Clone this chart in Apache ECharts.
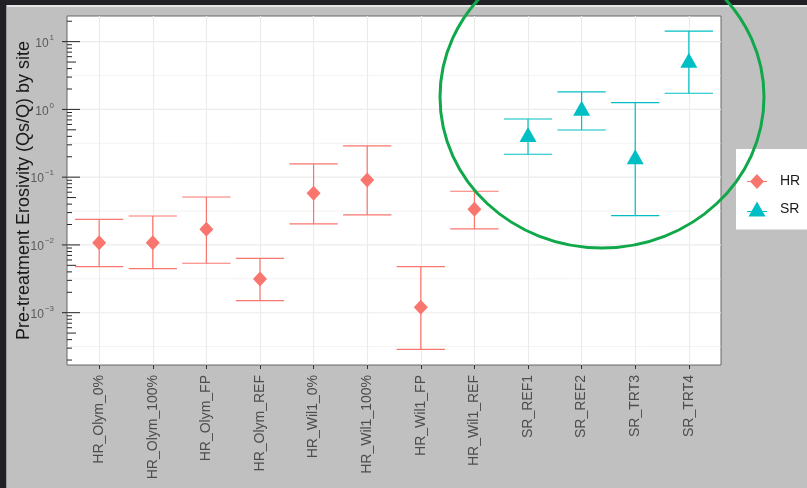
<!DOCTYPE html>
<html>
<head>
<meta charset="utf-8">
<script src="https://cdn.jsdelivr.net/npm/echarts@6/dist/echarts.min.js"></script>
<style>
  html, body { margin: 0; padding: 0; background: #c0c0c0; }
  #chart { width: 807px; height: 488px; }
</style>
</head>
<body>
<div id="chart"></div>
<script>
// Sites on the x axis, in plotting order
const categories = ['HR_Olym_0%', 'HR_Olym_100%', 'HR_Olym_FP', 'HR_Olym_REF',
  'HR_Wil1_0%', 'HR_Wil1_100%', 'HR_Wil1_FP', 'HR_Wil1_REF',
  'SR_REF1', 'SR_REF2', 'SR_TRT3', 'SR_TRT4'];
// Site groups shown in the legend
const groups = ['HR', 'SR'];
// Pre-treatment erosivity (Qs/Q) estimate with its lower / upper interval
const erosivity = [0.0108, 0.0108, 0.0170, 0.00314, 0.0578, 0.0909, 0.00120, 0.0336, 0.392, 0.955, 0.184, 4.89];
const lowerCI   = [0.00477, 0.00446, 0.00536, 0.00151, 0.0204, 0.0277, 0.000288, 0.0172, 0.218, 0.497, 0.027, 1.73];
const upperCI   = [0.0239, 0.0267, 0.0510, 0.00635, 0.157, 0.289, 0.00478, 0.062, 0.722, 1.81, 1.258, 14.3];
// Log10 y range of the panel
const yRange = [1.69e-4, 23.9];

const groupColor = { HR: '#F8766D', SR: '#00BFC4' };
const FONT = '"Liberation Sans", Arial, sans-serif';

// Panel box and the inner data box (discrete axis padded by 0.6 of a step)
const panel = { left: 67, top: 16, width: 654, height: 349 };
const step = panel.width / (categories.length - 1 + 1.2);
const inner = { left: panel.left + 0.6 * step, top: panel.top, width: (categories.length - 1) * step, height: panel.height };

const groupOf = c => c.split('_')[0];

// Horizontal grid lines: decades and half decades
const gridLines = [];
for (let e = -5; e <= 2; e++) {
  [[Math.pow(10, e), 1], [Math.pow(10, e + 0.5), 0]].forEach(([v, major]) => {
    if (v >= yRange[0] && v <= yRange[1]) gridLines.push([0, v, major]);
  });
}
// Log ticks along the left edge of the panel (1 = decade, 5 = mid, rest = minor)
const logTicks = [];
for (let e = -5; e <= 2; e++) {
  for (let m = 1; m <= 9; m++) {
    const v = m * Math.pow(10, e);
    if (v >= yRange[0] && v <= yRange[1]) logTicks.push([0, v, m === 1 ? 2 : (m === 5 ? 1 : 0)]);
  }
}

function renderGridLine(params, api) {
  const cs = params.coordSys;
  const y = api.coord([0, api.value(1)])[1];
  const major = api.value(2) === 1;
  return {
    type: 'line',
    shape: { x1: cs.x, y1: y, x2: cs.x + cs.width, y2: y },
    style: { stroke: '#ebebeb', lineWidth: major ? 1.1 : 0.6 }
  };
}

function renderLogTick(params, api) {
  const p = api.coord([0, api.value(1)]);
  const kind = api.value(2);
  const len = kind === 2 ? 13 : (kind === 1 ? 9 : 5);
  const start = kind === 2 ? -5 : 0;
  return {
    type: 'line',
    shape: { x1: p[0] + start, y1: p[1], x2: p[0] + len, y2: p[1] },
    style: { stroke: '#262626', lineWidth: 1 }
  };
}

function makeErrorBarRenderer(color) {
  return function (params, api) {
    const x = api.value(0);
    const lo = api.coord([x, api.value(1)]);
    const hi = api.coord([x, api.value(2)]);
    const half = api.size([1, 0])[0] * 0.45;
    const style = { stroke: color, lineWidth: 1.2 };
    return {
      type: 'group',
      children: [
        { type: 'line', shape: { x1: lo[0], y1: lo[1], x2: hi[0], y2: hi[1] }, style },
        { type: 'line', shape: { x1: hi[0] - half, y1: hi[1], x2: hi[0] + half, y2: hi[1] }, style },
        { type: 'line', shape: { x1: lo[0] - half, y1: lo[1], x2: lo[0] + half, y2: lo[1] }, style }
      ]
    };
  };
}

const symbolFor = { HR: 'diamond', SR: 'triangle' };
const legendIcon = {
  HR: 'path://M10,0 L17,7.5 L10,15 L3,7.5 Z M0,7 L20,7 L20,8 L0,8 Z',
  SR: 'path://M10,0 L18.5,15 L1.5,15 Z M0,9.5 L20,9.5 L20,10.5 L0,10.5 Z'
};

const series = [
  {
    type: 'custom', name: 'gridlines', xAxisIndex: 0, yAxisIndex: 0, z: 1, silent: true,
    renderItem: renderGridLine, data: gridLines, encode: { x: 0, y: 1 }
  },
  {
    type: 'custom', name: 'logticks', xAxisIndex: 0, yAxisIndex: 0, z: 6, silent: true, clip: false,
    renderItem: renderLogTick, data: logTicks, encode: { x: 0, y: 1 }
  }
];

groups.forEach(g => {
  const idx = categories.map((c, i) => i).filter(i => groupOf(categories[i]) === g);
  series.push({
    type: 'custom', name: g + ' interval', xAxisIndex: 1, yAxisIndex: 1, z: 3,
    renderItem: makeErrorBarRenderer(groupColor[g]),
    data: idx.map(i => [categories[i], lowerCI[i], upperCI[i]]),
    encode: { x: 0, y: [1, 2] }
  });
  series.push({
    type: 'scatter', name: g, xAxisIndex: 1, yAxisIndex: 1, z: 4,
    symbol: symbolFor[g],
    symbolSize: g === 'HR' ? [14, 15] : [17, 15],
    symbolOffset: g === 'HR' ? [0, 0] : [0, -2.5],
    itemStyle: { color: groupColor[g], opacity: 1 },
    data: idx.map(i => [categories[i], erosivity[i]])
  });
});

const chart = echarts.init(document.getElementById('chart'));
chart.setOption({
  animation: false,
  backgroundColor: '#c0c0c0',
  textStyle: { fontFamily: FONT },
  grid: [
    { left: panel.left, top: panel.top, width: panel.width, height: panel.height,
      show: true, backgroundColor: '#ffffff', borderColor: '#666666', borderWidth: 1 },
    { left: inner.left, top: inner.top, width: inner.width, height: inner.height }
  ],
  xAxis: [
    { gridIndex: 0, type: 'value', min: 0, max: 1, show: false },
    {
      gridIndex: 1, type: 'category', data: categories, boundaryGap: false,
      axisLine: { show: false },
      axisTick: { show: true, length: 4, lineStyle: { color: '#333333' } },
      axisLabel: { rotate: 90, margin: 10, fontSize: 14, color: '#4d4d4d', fontFamily: FONT, interval: 0 },
      splitLine: { show: true, lineStyle: { color: '#ebebeb', width: 1.1 } }
    }
  ],
  yAxis: [
    {
      gridIndex: 0, type: 'log', min: yRange[0], max: yRange[1],
      name: 'Pre-treatment Erosivity (Qs/Q) by site',
      nameLocation: 'middle', nameGap: 34, nameMoveOverlap: false,
      nameTextStyle: { fontSize: 18, color: '#1a1a1a', fontFamily: FONT },
      axisLine: { show: false }, axisTick: { show: false }, splitLine: { show: false },
      axisLabel: {
        margin: 13, showMinLabel: false, showMaxLabel: false,
        formatter: v => {
          const e = Math.round(Math.log10(v));
          return '{b|10}{s|' + (e < 0 ? '\u2212' + (-e) : e) + '}';
        },
        rich: {
          b: { fontSize: 12, color: '#5a5a5a', fontFamily: FONT, lineHeight: 16, verticalAlign: 'bottom', padding: [0, 1, 0, 0] },
          s: { fontSize: 8, color: '#5a5a5a', fontFamily: FONT, lineHeight: 16, verticalAlign: 'top' }
        }
      }
    },
    { gridIndex: 1, type: 'log', min: yRange[0], max: yRange[1], show: false }
  ],
  legend: {
    orient: 'vertical', left: 736, top: 149,
    padding: [25, 40, 13, 11], itemGap: 12.6, itemWidth: 20, itemHeight: 15,
    backgroundColor: '#ffffff', selectedMode: false,
    textStyle: { fontSize: 14, color: '#1a1a1a', fontFamily: FONT, padding: [0, 0, 0, 8] },
    data: groups.map(g => ({ name: g, icon: legendIcon[g] }))
  },
  graphic: [
    // window frame
    { type: 'rect', z: 0, silent: true, shape: { x: 0, y: 0, width: 807, height: 5 }, style: { fill: '#212125' } },
    { type: 'rect', z: 0, silent: true, shape: { x: 0, y: 5, width: 807, height: 2 }, style: { fill: '#e4e4e4' } },
    { type: 'rect', z: 0, silent: true, shape: { x: 0, y: 0, width: 6, height: 488 }, style: { fill: '#212125' } },
    { type: 'rect', z: 0, silent: true, shape: { x: 6, y: 5, width: 1, height: 483 }, style: { fill: '#9a9a9a' } },
    // highlight ring around the SR sites
    { type: 'ellipse', z: 100, silent: true, shape: { cx: 602, cy: 97, rx: 162, ry: 151 },
      style: { fill: null, stroke: '#10a84a', lineWidth: 3 } }
  ],
  series
});
</script>
</body>
</html>
